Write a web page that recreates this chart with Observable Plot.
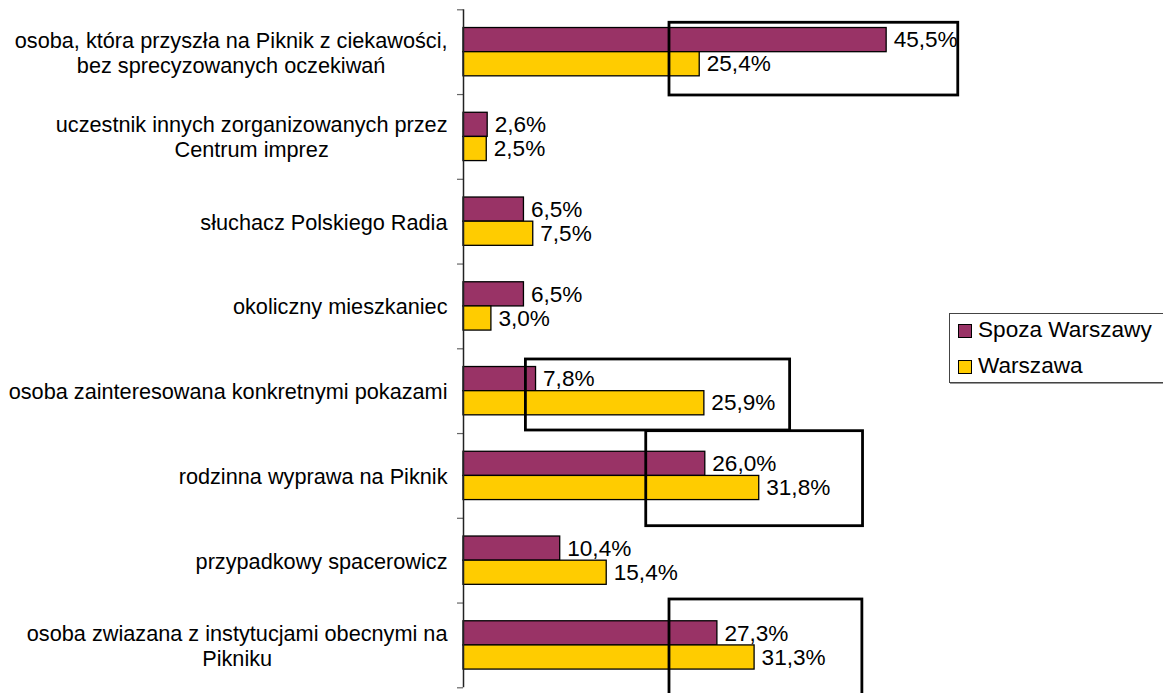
<!DOCTYPE html>
<html>
<head>
<meta charset="utf-8">
<script src="https://cdn.jsdelivr.net/npm/d3@7"></script>
<script src="https://cdn.jsdelivr.net/npm/@observablehq/plot@0.6"></script>
<style>
  html, body { margin: 0; padding: 0; background: #fff; overflow: hidden; }
  #wrap { position: relative; width: 1163px; height: 693px; font-family: "Liberation Sans", Arial, sans-serif; }
  #legend { position: absolute; left: 949px; top: 313px; width: 240px; height: 70px; border: 1px solid #444; box-sizing: border-box; background: #fff; box-shadow: 1px 1px 0 #999; }
  .li { position: absolute; left: 0; font-size: 22.6px; color: #000; white-space: nowrap; }
  .sw { position: absolute; width: 14px; height: 14px; border: 1.5px solid #000; box-sizing: border-box; }
</style>
</head>
<body>
<div id="wrap"><div id="chart"></div><div id="legend"></div></div>
<script>
// ---- data ----
const categories = [
  "osoba, która przyszła na Piknik z ciekawości,\nbez sprecyzowanych oczekiwań",
  "uczestnik innych zorganizowanych przez\nCentrum imprez",
  "słuchacz Polskiego Radia",
  "okoliczny mieszkaniec",
  "osoba zainteresowana konkretnymi pokazami",
  "rodzinna wyprawa na Piknik",
  "przypadkowy spacerowicz",
  "osoba zwiazana z instytucjami obecnymi na\nPikniku"
];
const seriesNames = ["Spoza Warszawy", "Warszawa"];
const spozaWarszawy = [45.5, 2.6, 6.5, 6.5, 7.8, 26.0, 10.4, 27.3];
const warszawa = [25.4, 2.5, 7.5, 3.0, 25.9, 31.8, 15.4, 31.3];
const seriesColors = ["#993366", "#FFCC00"];
// highlight frames drawn on the chart (x in %, y in category units)
const highlights = [
  {x1: 22.15, x2: 53.2, y1: 0.153, y2: 1.011},
  {x1: 6.71, x2: 35.12, y1: 4.126, y2: 4.964},
  {x1: 19.65, x2: 42.96, y1: 4.972, y2: 6.093},
  {x1: 22.15, x2: 42.89, y1: 6.958, y2: 8.2}
];

// ---- layout ----
const barEdges = [0.215, 0.5, 0.785];
const rows = [];
categories.forEach((c, i) => {
  [spozaWarszawy, warszawa].forEach((arr, s) => {
    rows.push({cat: c, i, s, value: arr[i], y1: i + barEdges[s], y2: i + barEdges[s + 1]});
  });
});

const catFont = 21.7;
const valFont = 22.6;
const ctx = document.createElement("canvas").getContext("2d");
ctx.font = `${catFont}px "Liberation Sans"`;
const labelMarks = categories.map((c, i) => {
  const w = d3.max(c.split("\n"), l => ctx.measureText(l).width);
  return Plot.text([c], {
    x: () => 0, y: () => i + 0.5, text: d => d,
    textAnchor: "middle", lineAnchor: "middle", lineHeight: 1.15,
    dx: -16 - w / 2, dy: 0, fontSize: catFont, fill: "#000"
  });
});

const chart = Plot.plot({
  width: 1163,
  height: 693,
  marginLeft: 463,
  marginRight: 0,
  marginTop: 0,
  marginBottom: 0,
  style: {fontFamily: '"Liberation Sans", Arial, sans-serif', background: "#fff", overflow: "visible"},
  x: {domain: [0, 700 / 9.3], range: [463, 1163], axis: null},
  y: {domain: [0, 8], range: [9.3, 687.3], axis: null},
  marks: [
    Plot.axisY({ticks: d3.range(0, 9), tickSize: 6, tickFormat: () => "", stroke: "#666", strokeWidth: 1.2, label: null}),
    Plot.rect(rows, {
      x1: () => 0, x2: "value", y1: "y1", y2: "y2",
      fill: d => seriesColors[d.s], stroke: "#000", strokeWidth: 1.3
    }),
    Plot.ruleX([0], {y1: 0, y2: 8, stroke: "#222", strokeWidth: 1.5}),
    Plot.text(rows, {
      x: "value", y: d => (d.y1 + d.y2) / 2,
      text: d => d.value.toFixed(1).replace(".", ",") + "%",
      textAnchor: "start", lineAnchor: "middle", dx: 7, fontSize: valFont, fill: "#000"
    }),
    ...labelMarks,
    Plot.rect(highlights, {x1: "x1", x2: "x2", y1: "y1", y2: "y2", fill: "none", stroke: "#000", strokeWidth: 2.8})
  ]
});
document.getElementById("chart").appendChild(chart);

// legend
const lg = document.getElementById("legend");
seriesNames.forEach((name, k) => {
  const top = k === 0 ? 10 : 46;
  const sw = document.createElement("div");
  sw.className = "sw";
  sw.style.left = "8px";
  sw.style.top = top + "px";
  sw.style.background = seriesColors[k];
  lg.appendChild(sw);
  const t = document.createElement("div");
  t.className = "li";
  t.style.left = "28px";
  t.style.top = (top - 7) + "px";
  t.style.lineHeight = "26px";
  t.textContent = name;
  lg.appendChild(t);
});
</script>
</body>
</html>
